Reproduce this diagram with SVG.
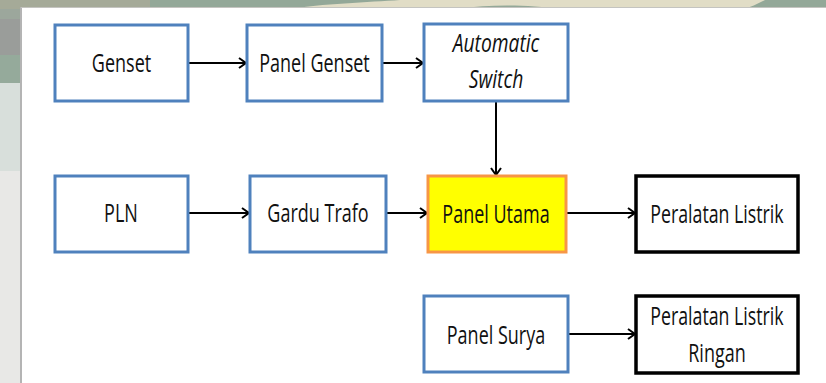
<svg xmlns="http://www.w3.org/2000/svg" width="826" height="383" viewBox="0 0 826 383">
<defs>
<style>
.n{fill:#fff;stroke:#4f81bd;stroke-width:3}
.k{fill:#fff;stroke:#000;stroke-width:3.5}
.t{font-family:"Open Sans",sans-serif;font-size:25px;fill:#111;text-anchor:middle}
.c{stroke:#000;stroke-width:2;fill:none}
</style>
<marker id="a" viewBox="0 0 12 12" refX="11" refY="6" markerWidth="12" markerHeight="12" markerUnits="userSpaceOnUse" orient="auto">
<path d="M4,1 L11,6 L4,11" fill="none" stroke="#000" stroke-width="2"/>
</marker>
</defs>
<g id="background">
<rect x="0" y="0" width="826" height="383" fill="#e8e8e6"/>
<rect x="0" y="0" width="826" height="9" fill="#93a898"/>
<rect x="0" y="0" width="150" height="9" fill="#a5aa98"/>
<path d="M290,9 C320,4 370,2 400,0 L765,0 C758,4 750,7 745,9 L560,9 C530,5 490,4 460,9 Z" fill="#e1ddc6"/>
<rect x="0" y="9" width="21" height="10" fill="#9ca79c"/>
<rect x="0" y="19" width="21" height="36" fill="#9a9d9a"/>
<rect x="0" y="55" width="21" height="28" fill="#95aa9b"/>
<rect x="0" y="83" width="21" height="88" fill="#d8dfdb"/>
<rect x="20" y="7" width="806" height="376" fill="#fff"/>
<line x1="21" y1="7" x2="21" y2="383" stroke="#b4b4b4" stroke-width="2"/>
<line x1="21" y1="7.5" x2="826" y2="7.5" stroke="#c4c4c0" stroke-width="1"/>
</g>
<g id="connectors">
<line class="c" x1="188" y1="63" x2="246" y2="63" marker-end="url(#a)"/>
<line class="c" x1="382" y1="63" x2="423" y2="63" marker-end="url(#a)"/>
<line class="c" x1="496" y1="101" x2="496" y2="175" marker-end="url(#a)"/>
<line class="c" x1="188" y1="213" x2="249" y2="213" marker-end="url(#a)"/>
<line class="c" x1="386" y1="213" x2="427" y2="213" marker-end="url(#a)"/>
<line class="c" x1="566" y1="213" x2="635" y2="213" marker-end="url(#a)"/>
<line class="c" x1="568" y1="334" x2="635" y2="334" marker-end="url(#a)"/>
</g>
<g id="genset"><rect class="n" x="55" y="25" width="133" height="76"/><text class="t" transform="translate(121.5,72) scale(0.72,1)">Genset</text></g>
<g id="panel-genset"><rect class="n" x="247" y="25" width="135" height="76"/><text class="t" transform="translate(314.5,72) scale(0.72,1)">Panel Genset</text></g>
<g id="automatic-switch"><rect class="n" x="424" y="24" width="144" height="77"/><text class="t" font-style="italic" transform="translate(496,52) scale(0.77,1)">Automatic</text><text class="t" font-style="italic" transform="translate(496,88) scale(0.77,1)">Switch</text></g>
<g id="pln"><rect class="n" x="55" y="176" width="133" height="76"/><text class="t" transform="translate(121,222) scale(0.72,1)">PLN</text></g>
<g id="gardu-trafo"><rect class="n" x="250" y="176" width="136" height="76"/><text class="t" transform="translate(318,222) scale(0.72,1)">Gardu Trafo</text></g>
<g id="panel-utama"><rect x="428" y="176" width="138" height="76" fill="#ffff00" stroke="#f79646" stroke-width="3"/><text class="t" transform="translate(496,223) scale(0.72,1)">Panel Utama</text></g>
<g id="peralatan-listrik"><rect class="k" x="636" y="176" width="162" height="76"/><text class="t" transform="translate(717,223) scale(0.71,1)">Peralatan Listrik</text></g>
<g id="panel-surya"><rect class="n" x="424" y="296" width="144" height="76"/><text class="t" transform="translate(496,344) scale(0.72,1)">Panel Surya</text></g>
<g id="peralatan-listrik-ringan"><rect class="k" x="636" y="296" width="162" height="77"/><text class="t" transform="translate(717,325) scale(0.71,1)">Peralatan Listrik</text><text class="t" transform="translate(717,362) scale(0.72,1)">Ringan</text></g>
</svg>
